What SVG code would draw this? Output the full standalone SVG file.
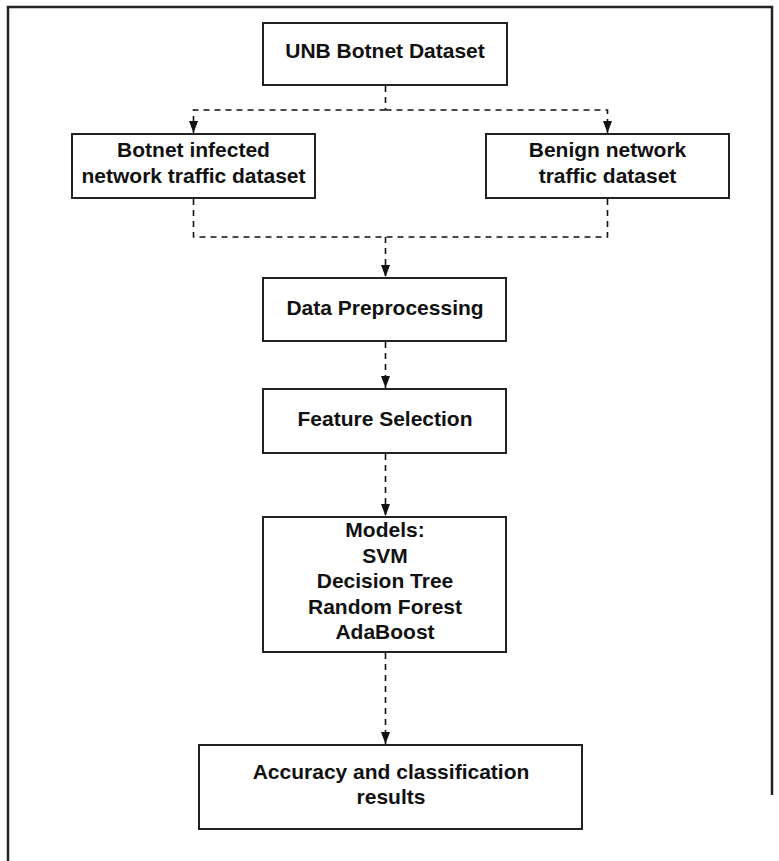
<svg xmlns="http://www.w3.org/2000/svg" width="779" height="861" viewBox="0 0 779 861">
<defs>
<style>
.box{fill:#fff;stroke:#222;stroke-width:2}
.t{font-family:"Liberation Sans",Arial,sans-serif;font-weight:bold;font-size:21px;fill:#111;text-anchor:middle}
.c{fill:none;stroke:#111;stroke-width:1.6;stroke-dasharray:6 5}
.frame{fill:none;stroke:#222;stroke-width:2.5}
</style>
<marker id="arr" viewBox="0 0 12 9" refX="12" refY="4.5" markerWidth="12" markerHeight="9" markerUnits="userSpaceOnUse" orient="auto">
<path d="M0,0 L12,4.5 L0,9 z" fill="#111"/>
</marker>
</defs>
<rect width="779" height="861" fill="#fff"/>
<g id="frame">
<path class="frame" d="M8,861 L8,7 L772,7 L772,795"/>
</g>
<g id="connectors">
<path class="c" d="M385.5,86 L385.5,110"/>
<path class="c" d="M385.5,110 L193.5,110 L193.5,133" marker-end="url(#arr)"/>
<path class="c" d="M385.5,110 L607.5,110 L607.5,133" marker-end="url(#arr)"/>
<path class="c" d="M193.5,199 L193.5,237 L607.5,237 L607.5,199"/>
<path class="c" d="M385.5,237 L385.5,277" marker-end="url(#arr)"/>
<path class="c" d="M385.5,342 L385.5,388" marker-end="url(#arr)"/>
<path class="c" d="M385.5,454 L385.5,516" marker-end="url(#arr)"/>
<path class="c" d="M385.5,653 L385.5,744" marker-end="url(#arr)"/>
</g>
<g id="n-unb">
<rect class="box" x="263" y="23" width="244" height="62"/>
<text class="t" x="385" y="58">UNB Botnet Dataset</text>
</g>
<g id="n-botnet">
<rect class="box" x="72" y="134" width="243" height="64"/>
<text class="t" x="193.5" y="157">Botnet infected</text>
<text class="t" x="193.5" y="182.5">network traffic dataset</text>
</g>
<g id="n-benign">
<rect class="box" x="486" y="134" width="243" height="64"/>
<text class="t" x="607.5" y="157">Benign network</text>
<text class="t" x="607.5" y="182.5">traffic dataset</text>
</g>
<g id="n-prep">
<rect class="box" x="263" y="278" width="243" height="63"/>
<text class="t" x="385" y="315">Data Preprocessing</text>
</g>
<g id="n-feat">
<rect class="box" x="263" y="389" width="243" height="64"/>
<text class="t" x="385" y="426">Feature Selection</text>
</g>
<g id="n-models">
<rect class="box" x="263" y="517" width="243" height="135"/>
<text class="t" x="385" y="537">Models:</text>
<text class="t" x="385" y="562.5">SVM</text>
<text class="t" x="385" y="588">Decision Tree</text>
<text class="t" x="385" y="613.5">Random Forest</text>
<text class="t" x="385" y="639">AdaBoost</text>
</g>
<g id="n-acc">
<rect class="box" x="199" y="745" width="383" height="84"/>
<text class="t" x="391" y="779">Accuracy and classification</text>
<text class="t" x="391" y="804">results</text>
</g>
</svg>
